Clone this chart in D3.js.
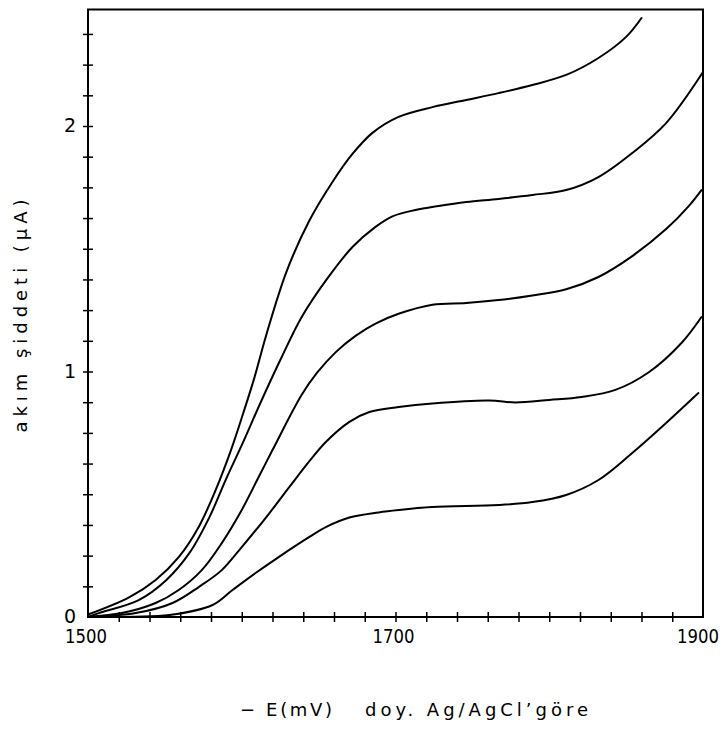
<!DOCTYPE html>
<html><head><meta charset="utf-8">
<script src="https://cdn.jsdelivr.net/npm/d3@7"></script>
<style>body{margin:0;background:#fff}svg{display:block}</style>
</head><body><svg id="c" width="726" height="729"></svg>
<script>
// ---- data (potential in -mV, current in µA) ----
const curve1E = [1500,1527,1544,1559,1572,1583,1593,1601,1608,1616,1629,1644,1659,1672,1685,1702,1724,1746,1767,1789,1811,1832,1850,1860];
const curve1I = [0.01,0.081,0.151,0.244,0.367,0.517,0.680,0.831,0.97,1.150,1.405,1.615,1.772,1.886,1.972,2.037,2.077,2.106,2.134,2.167,2.208,2.277,2.363,2.440];

const curve2E = [1500,1507,1533,1551,1566,1579,1590,1600,1613,1626,1639,1655,1672,1687,1698,1713,1728,1746,1767,1789,1811,1832,1854,1876,1900];
const curve2I = [0,0.016,0.069,0.151,0.261,0.407,0.565,0.70,0.884,1.059,1.222,1.373,1.507,1.589,1.632,1.658,1.674,1.690,1.703,1.719,1.739,1.792,1.890,2.012,2.22];

const curve3E = [1500,1522,1544,1559,1574,1587,1600,1611,1620,1639,1649,1661,1674,1687,1702,1724,1746,1767,1789,1811,1832,1854,1876,1891,1899];
const curve3I = [0,0.016,0.057,0.110,0.191,0.301,0.436,0.570,0.680,0.905,0.995,1.078,1.145,1.195,1.235,1.272,1.279,1.291,1.310,1.335,1.385,1.470,1.580,1.676,1.739];

const curve4E = [1500,1531,1555,1572,1587,1600,1616,1631,1644,1655,1670,1683,1702,1724,1761,1778,1800,1821,1843,1865,1886,1899];
const curve4I = [0,0.016,0.057,0.122,0.191,0.285,0.407,0.530,0.635,0.715,0.795,0.835,0.855,0.870,0.882,0.874,0.884,0.896,0.925,0.998,1.116,1.222];

const curve5E = [1500,1530,1553,1581,1594,1609,1624,1644,1655,1670,1689,1702,1724,1767,1789,1811,1832,1854,1876,1897];
const curve5I = [0,0.001,0.008,0.049,0.110,0.179,0.244,0.326,0.367,0.405,0.426,0.436,0.448,0.456,0.468,0.497,0.558,0.668,0.790,0.912];

const xTickLabels = [1500, 1700, 1900];
const yTickLabels = [0, 1, 2];
const xMinorTicks = [1520,1540,1560,1580,1600,1620,1640,1660,1680,1700,1720,1740,1760,1780,1800,1820,1840,1860,1880];
const yMinorTicks = [0.125,0.25,0.375,0.5,0.625,0.75,0.875,1,1.125,1.25,1.375,1.5,1.625,1.75,1.875,2,2.125,2.25,2.375];
const yTopValue = 2.475;
const xTitleLeft = "\u2212 E(mV)";
const xTitleRight = "doy. Ag/AgCl\u2019göre";
const yTitle = "akım şiddeti (μA)";

// ---- drawing ----
const svg = d3.select('#c');
const x = d3.scaleLinear().domain([1500, 1900]).range([88, 703]);
const y = d3.scaleLinear().domain([0, 2]).range([617, 126]);
const font = "'DejaVu Sans', sans-serif";

// frame
svg.append('path')
  .attr('d', `M${x(1500)},${y(0)} L${x(1500)},${y(yTopValue)} L${x(1900)},${y(yTopValue)} L${x(1900)},${y(0)} Z`)
  .attr('fill', 'none').attr('stroke', '#000').attr('stroke-width', 2);

// minor ticks (crossing the axis)
const gx = svg.append('g').attr('transform', `translate(0,${y(0)})`)
  .call(d3.axisBottom(x).tickValues(xMinorTicks).tickSize(5).tickFormat(''));
gx.select('.domain').remove();
gx.selectAll('.tick line').attr('y1', -5).attr('stroke-width', 1.5);

const gy = svg.append('g').attr('transform', `translate(${x(1500)},0)`)
  .call(d3.axisLeft(y).tickValues(yMinorTicks).tickSize(5).tickFormat(''));
gy.select('.domain').remove();
gy.selectAll('.tick line').attr('x1', 5).attr('stroke-width', 1.5);

// tick labels
svg.append('g').selectAll('text').data(xTickLabels).join('text')
  .attr('x', (d, i) => x(d) - (i === xTickLabels.length - 1 ? 5 : 2)).attr('y', y(0) + 26)
  .attr('text-anchor', 'middle')
  .attr('font-family', font).attr('font-size', 19)
  .attr('textLength', 42).attr('lengthAdjust', 'spacingAndGlyphs')
  .text(d => d);

svg.append('g').selectAll('text').data(yTickLabels).join('text')
  .attr('x', x(1500) - 12).attr('y', d => y(d) + 6)
  .attr('text-anchor', 'end')
  .attr('font-family', font).attr('font-size', 19)
  .text(d => d);

// curves
const line = d3.line().x(d => x(d[0])).y(d => y(d[1])).curve(d3.curveCatmullRom.alpha(0.5));
const series = [
  [curve1E, curve1I], [curve2E, curve2I], [curve3E, curve3I], [curve4E, curve4I], [curve5E, curve5I]
];
svg.append('g').selectAll('path').data(series).join('path')
  .attr('d', s => line(s[0].map((e, i) => [e, s[1][i]])))
  .attr('fill', 'none').attr('stroke', '#000').attr('stroke-width', 2)
  .attr('stroke-linejoin', 'round').attr('stroke-linecap', 'round');

// axis titles
svg.append('text')
  .attr('x', 240).attr('y', 716)
  .attr('font-family', font).attr('font-size', 18)
  .attr('textLength', 92).attr('lengthAdjust', 'spacing')
  .text(xTitleLeft);
svg.append('text')
  .attr('x', 365).attr('y', 716)
  .attr('font-family', font).attr('font-size', 18)
  .attr('textLength', 223).attr('lengthAdjust', 'spacing')
  .text(xTitleRight);

svg.append('text')
  .attr('transform', 'translate(27,316) rotate(-90)')
  .attr('text-anchor', 'middle')
  .attr('font-family', font).attr('font-size', 18)
  .attr('textLength', 233).attr('lengthAdjust', 'spacing')
  .text(yTitle);
</script>
</body></html>
